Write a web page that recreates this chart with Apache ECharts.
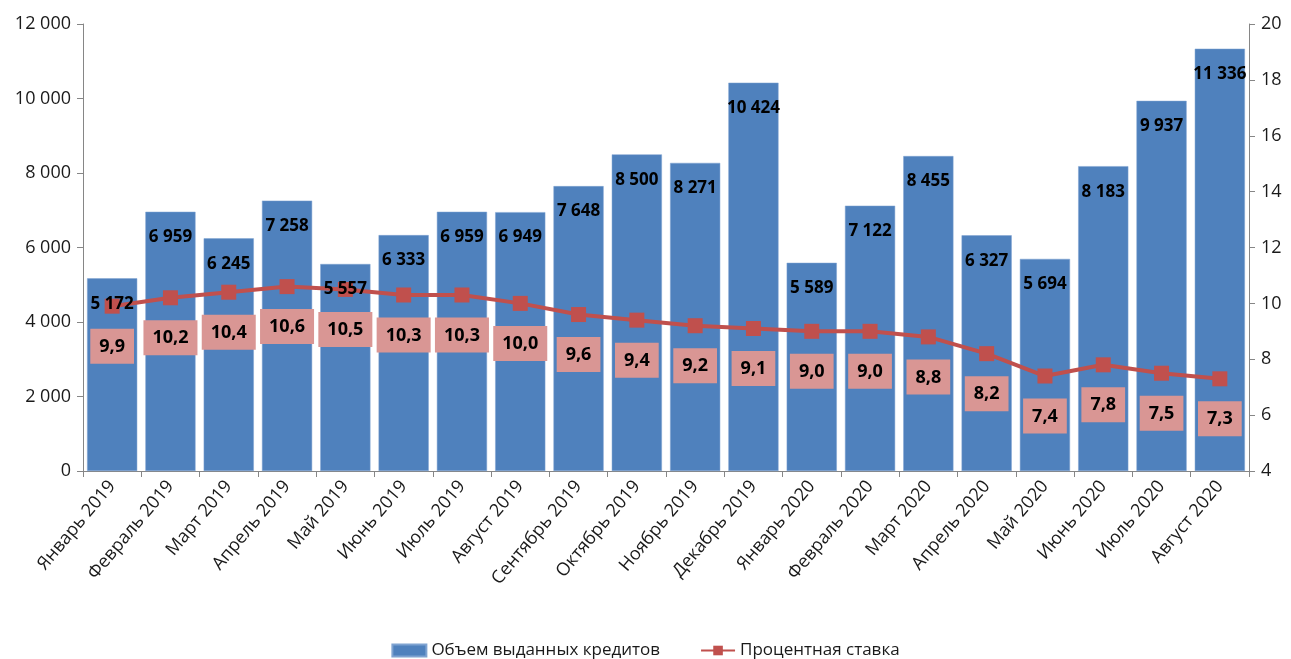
<!DOCTYPE html>
<html><head><meta charset="utf-8">
<script src="https://cdn.jsdelivr.net/npm/echarts@6/dist/echarts.min.js"></script>
<style>html,body{margin:0;padding:0;background:#fff}#c{width:1291px;height:659px}</style>
</head><body><div id="c"></div>
<script>
const categories = ['Январь 2019','Февраль 2019','Март 2019','Апрель 2019','Май 2019','Июнь 2019','Июль 2019','Август 2019','Сентябрь 2019','Октябрь 2019','Ноябрь 2019','Декабрь 2019','Январь 2020','Февраль 2020','Март 2020','Апрель 2020','Май 2020','Июнь 2020','Июль 2020','Август 2020'];
const loanVolume = [5172, 6959, 6245, 7258, 5557, 6333, 6959, 6949, 7648, 8500, 8271, 10424, 5589, 7122, 8455, 6327, 5694, 8183, 9937, 11336];
const interestRate = [9.9, 10.2, 10.4, 10.6, 10.5, 10.3, 10.3, 10.0, 9.6, 9.4, 9.2, 9.1, 9.0, 9.0, 8.8, 8.2, 7.4, 7.8, 7.5, 7.3];
const seriesNames = ['Объем выданных кредитов', 'Процентная ставка'];

const FONT = 'Open Sans';
const fmtThousands = v => String(Math.round(v)).replace(/\B(?=(\d{3})+(?!\d))/g, ' ');
const fmtDec = v => v.toFixed(1).replace('.', ',');

const chart = echarts.init(document.getElementById('c'));
chart.setOption({
  animation: false,
  textStyle: { fontFamily: FONT },
  grid: { left: 83, right: 42, top: 24, bottom: 188 },
  legend: {
    top: 637, left: 'center', itemGap: 40, itemWidth: 34, itemHeight: 12,
    textStyle: { fontSize: 17, color: '#1a1a1a', fontFamily: FONT },
    data: [
      { name: seriesNames[0], icon: 'rect' },
      { name: seriesNames[1] }
    ]
  },
  xAxis: {
    type: 'category', data: categories,
    axisLine: { lineStyle: { color: '#868686' } },
    axisTick: { show: true, alignWithLabel: false, length: 6, lineStyle: { color: '#868686' } },
    axisLabel: { rotate: 50, fontSize: 18, color: '#1a1a1a', margin: 12, interval: 0 }
  },
  yAxis: [
    {
      type: 'value', min: 0, max: 12000, interval: 2000, splitLine: { show: false },
      axisLine: { show: true, lineStyle: { color: '#868686' } },
      axisTick: { show: true, length: 6, lineStyle: { color: '#868686' } },
      axisLabel: { fontSize: 18, color: '#1a1a1a', margin: 12, formatter: fmtThousands }
    },
    {
      type: 'value', min: 4, max: 20, interval: 2, splitLine: { show: false },
      axisLine: { show: true, lineStyle: { color: '#868686' } },
      axisTick: { show: true, length: 6, lineStyle: { color: '#868686' } },
      axisLabel: { fontSize: 18, color: '#1a1a1a', margin: 12 }
    }
  ],
  series: [
    {
      name: seriesNames[0], type: 'bar', data: loanVolume, yAxisIndex: 0,
      barCategoryGap: '14%',
      itemStyle: { color: '#4F81BD', borderColor: '#7fa3d1', borderWidth: 0.5 },
      z: 2
    },
    {
      name: seriesNames[1], type: 'line', data: interestRate, yAxisIndex: 1,
      symbol: 'rect', symbolSize: 15,
      lineStyle: { color: '#C0504D', width: 4 },
      itemStyle: { color: '#C0504D' },
      label: {
        show: true, position: 'bottom', distance: 15, fontSize: 18, fontWeight: 'bold',
        color: '#000', backgroundColor: '#D99694', padding: [9, 9, 8, 9],
        formatter: p => fmtDec(p.value)
      },
      z: 3
    },
    {
      name: 'labels', type: 'bar', data: loanVolume, yAxisIndex: 0,
      barCategoryGap: '14%', barGap: '-100%', silent: true,
      itemStyle: { color: 'rgba(0,0,0,0)' },
      label: {
        show: true, position: 'insideTop', distance: 17, fontSize: 17, fontWeight: 'bold',
        color: '#000', formatter: p => fmtThousands(p.value)
      },
      z: 5
    }
  ]
});
</script>
</body></html>
